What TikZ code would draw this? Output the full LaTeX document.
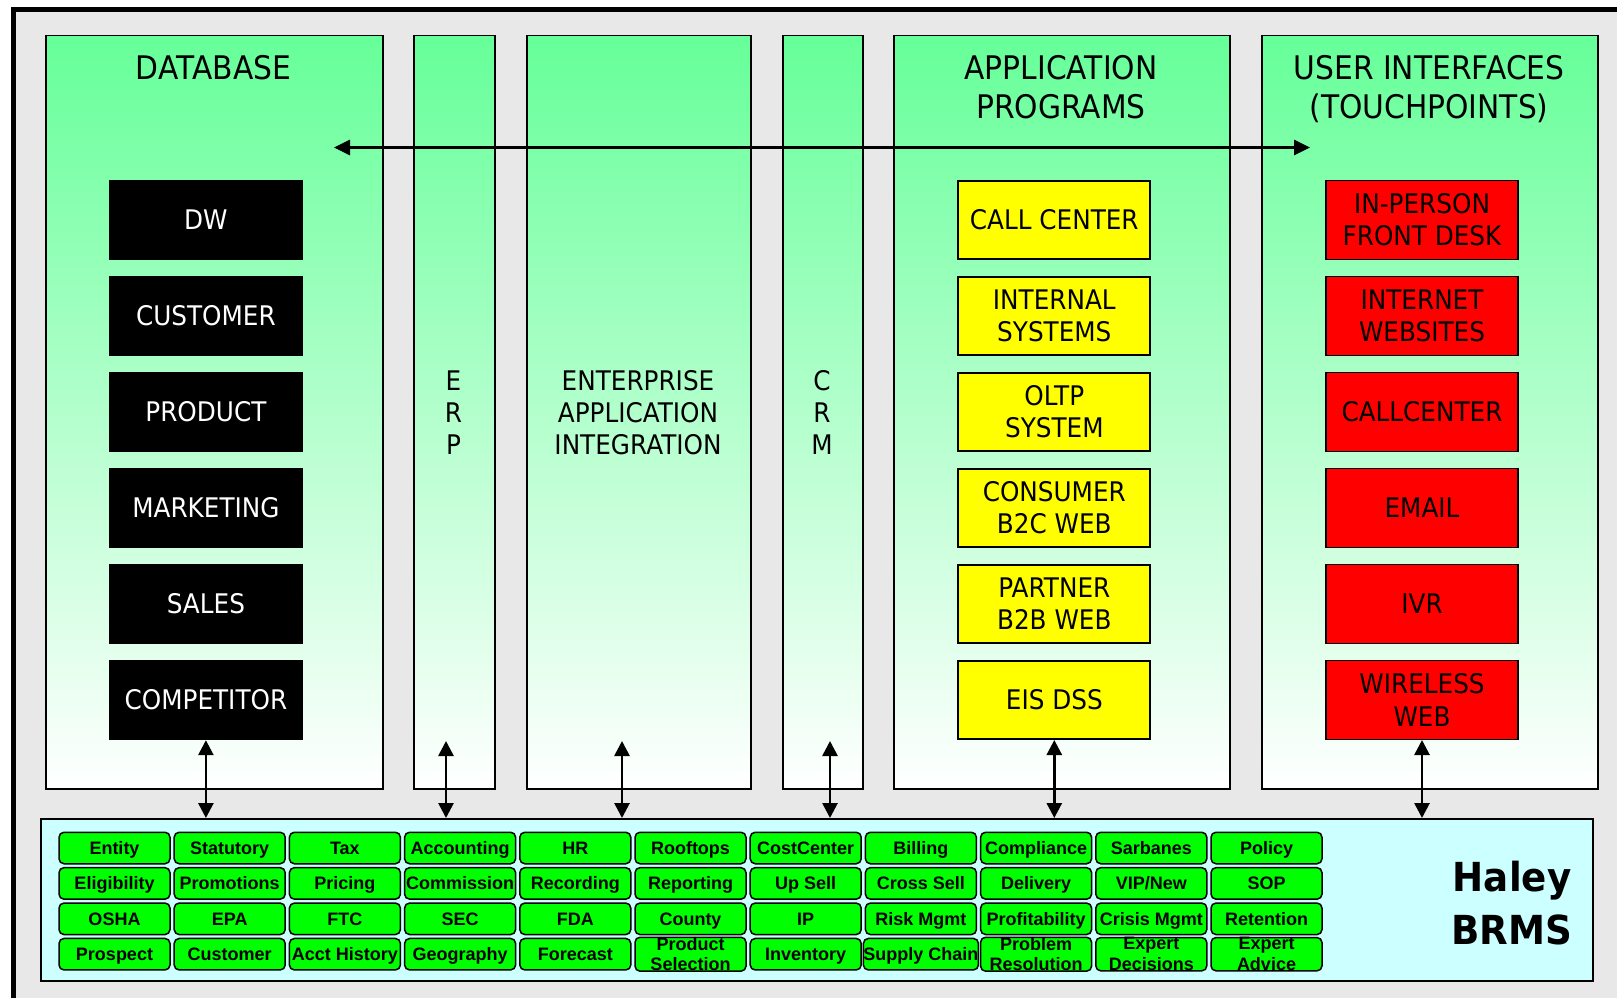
\documentclass[tikz,border=0pt]{standalone}
\usepackage{fontspec}
\setmainfont{DejaVu Sans}[FakeStretch=0.915]
\newfontfamily\cellfont{Liberation Sans}
\newfontfamily\haleyfont{DejaVu Sans}[FakeStretch=0.93]
\usetikzlibrary{arrows.meta}
\definecolor{framegray}{RGB}{232,232,232}
\definecolor{coltop}{RGB}{102,255,153}
\definecolor{brmscyan}{RGB}{204,255,255}
\definecolor{cellgreen}{RGB}{0,255,0}
\definecolor{boxyellow}{RGB}{255,255,0}
\definecolor{boxred}{RGB}{255,0,0}
\tikzset{
  column/.style={draw=black, line width=1.5pt, top color=coltop, bottom color=white,
    anchor=north west, inner sep=0pt},
  coltitle/.style={font=\fontsize{32.5}{39.5}\selectfont, align=center, inner sep=0pt, anchor=north},
  vlabel/.style={font=\fontsize{27}{32}\selectfont, align=center, inner sep=0pt},
  dbbox/.style={fill=black, text=white, minimum width=194pt, minimum height=80.5pt,
    inner sep=0pt, font=\fontsize{27}{32.5}\selectfont, align=center},
  appbox/.style={dbbox, fill=boxyellow, draw=black, line width=2pt, text=black, minimum width=192pt, minimum height=78.5pt},
  uibox/.style={dbbox, fill=boxred, draw=black, line width=1.5pt, text=black, minimum width=192pt, minimum height=79pt},
  cellbase/.style={draw=black, line width=1.5pt, fill=cellgreen, rounded corners=5pt,
    minimum width=111pt, minimum height=31.5pt, inner sep=0pt,
    font=\cellfont\bfseries\fontsize{18}{20.7}\selectfont, align=center},
  cell/.style={cellbase, text height=13pt, text depth=0pt},
  cellt/.style={cellbase},
  biarrow/.style={line width=2.7pt, {Triangle[length=15pt,width=15pt]}-{Triangle[length=15pt,width=15pt]}},
}
\begin{document}
\begin{tikzpicture}[x=1pt, y=-1pt]
\useasboundingbox (0,0) rectangle (1617,998);
\fill[white] (0,0) rectangle (1617,998);
% outer frame
\fill[framegray] (13.5,9.7) rectangle (1625,1005);
\draw[line width=5.5pt] (13.5,1005) -- (13.5,9.7) -- (1625,9.7);

% columns
\node[column, minimum width=337pt, minimum height=753pt] (db)  at (45,35) {};
\node[column, minimum width=81pt,  minimum height=753pt] (erp) at (413,35) {};
\node[column, minimum width=224pt, minimum height=753pt] (eai) at (526,35) {};
\node[column, minimum width=80pt,  minimum height=753pt] (crm) at (782,35) {};
\node[column, minimum width=336pt, minimum height=753pt] (app) at (893,35) {};
\node[column, minimum width=336pt, minimum height=753pt] (ui)  at (1261,35) {};

% titles
\node[coltitle] (t-db)  at (213.5,55) {DATABASE};
\node[coltitle] (t-app) at (1061,55) {APPLICATION\\PROGRAMS};
\node[coltitle] (t-ui)  at (1429,55) {USER INTERFACES\\(TOUCHPOINTS)};

% vertical labels
\node[vlabel] (l-erp) at (453.5,412.5) {E\\R\\P};
\node[vlabel] (l-eai) at (638,412.5) {ENTERPRISE\\APPLICATION\\INTEGRATION};
\node[vlabel] (l-crm) at (822,412.5) {C\\R\\M};

% database boxes
\node[dbbox] (dw)         at (205.9,219.75) {DW};
\node[dbbox] (customer)   at (205.9,315.75) {CUSTOMER};
\node[dbbox] (product)    at (205.9,411.75) {PRODUCT};
\node[dbbox] (marketing)  at (205.9,507.75) {MARKETING};
\node[dbbox] (sales)      at (205.9,603.75) {SALES};
\node[dbbox] (competitor) at (205.9,699.75) {COMPETITOR};

% application boxes
\node[appbox] (callc)    at (1054.3,219.75) {CALL CENTER};
\node[appbox] (internal) at (1054.3,315.75) {INTERNAL\\SYSTEMS};
\node[appbox] (oltp)     at (1054.3,411.75) {OLTP\\SYSTEM};
\node[appbox] (b2c)      at (1054.3,507.75) {CONSUMER\\B2C WEB};
\node[appbox] (b2b)      at (1054.3,603.75) {PARTNER\\B2B WEB};
\node[appbox] (eis)      at (1054.3,699.75) {EIS DSS};

% user interface boxes
\node[uibox] (front)    at (1422,219.75) {IN-PERSON\\FRONT DESK};
\node[uibox] (web)      at (1422,315.75) {INTERNET\\WEBSITES};
\node[uibox] (ccenter)  at (1422,411.75) {CALLCENTER};
\node[uibox] (email)    at (1422,507.75) {EMAIL};
\node[uibox] (ivr)      at (1422,603.75) {IVR};
\node[uibox] (wireless) at (1422,699.75) {WIRELESS\\WEB};

% horizontal arrow
\coordinate (ha-l) at (334,147.5);
\coordinate (ha-r) at (1310,147.5);
\draw[line width=3pt, {Triangle[length=16pt,width=15pt]}-{Triangle[length=16pt,width=15pt]}] (ha-l) -- (ha-r);

% BRMS box
\node[draw=black, line width=2pt, fill=brmscyan, anchor=north west, inner sep=0pt,
  minimum width=1552pt, minimum height=161.5pt] (brms) at (40,818) {};

% rule cells
\foreach \lab [count=\cc from 0] in {Entity,Statutory,Tax,Accounting,HR,Rooftops,CostCenter,Billing,Compliance,Sarbanes,Policy}
  {\node[cell] (ca-\cc) at ({114.5+115.2*\cc},848) {\lab};}
\foreach \lab [count=\cc from 0] in {Eligibility,Promotions,Pricing,Commission,Recording,Reporting,Up Sell,Cross Sell,Delivery,VIP/New,SOP}
  {\node[cell] (cb-\cc) at ({114.5+115.2*\cc},883.4) {\lab};}
\foreach \lab [count=\cc from 0] in {OSHA,EPA,FTC,SEC,FDA,County,IP,Risk Mgmt,Profitability,Crisis Mgmt,Retention}
  {\node[cell] (cd-\cc) at ({114.5+115.2*\cc},918.8) {\lab};}
\foreach \lab [count=\cc from 0] in {Prospect,Customer,Acct History,Geography,Forecast}
  {\node[cell] (ce-\cc) at ({114.5+115.2*\cc},954.2) {\lab};}
\node[cellt] (ce-5)  at ({114.5+115.2*5},954.2) {Product\\Selection};
\node[cell]  (ce-6)  at ({114.5+115.2*6},954.2) {Inventory};
\node[cell]  (ce-7)  at ({114.5+115.2*7},954.2) {Supply Chain};
\node[cellt] (ce-8)  at ({114.5+115.2*8},954.2) {Problem\\Resolution};
\node[cellt] (ce-9)  at ({114.5+115.2*9},954.2) {Expert\\Decisions};
\node[cellt] (ce-10) at ({114.5+115.2*10},954.2) {Expert\\Advice};

\node[font=\haleyfont\bfseries\fontsize{40}{52.6}\selectfont, align=center, inner sep=0pt] (haley) at (1512,903) {Haley\\BRMS};

% vertical arrows
\coordinate (erp-a) at (446,741);
\coordinate (eai-a) at (622,741);
\coordinate (crm-a) at (830,741);
\draw[biarrow] (competitor.south) -- (competitor.south |- brms.north);
\draw[biarrow] (erp-a) -- (erp-a |- brms.north);
\draw[biarrow] (eai-a) -- (eai-a |- brms.north);
\draw[biarrow] (crm-a) -- (crm-a |- brms.north);
\draw[biarrow] (eis.south) -- (eis.south |- brms.north);
\draw[biarrow] (wireless.south) -- (wireless.south |- brms.north);
\end{tikzpicture}
\end{document}
